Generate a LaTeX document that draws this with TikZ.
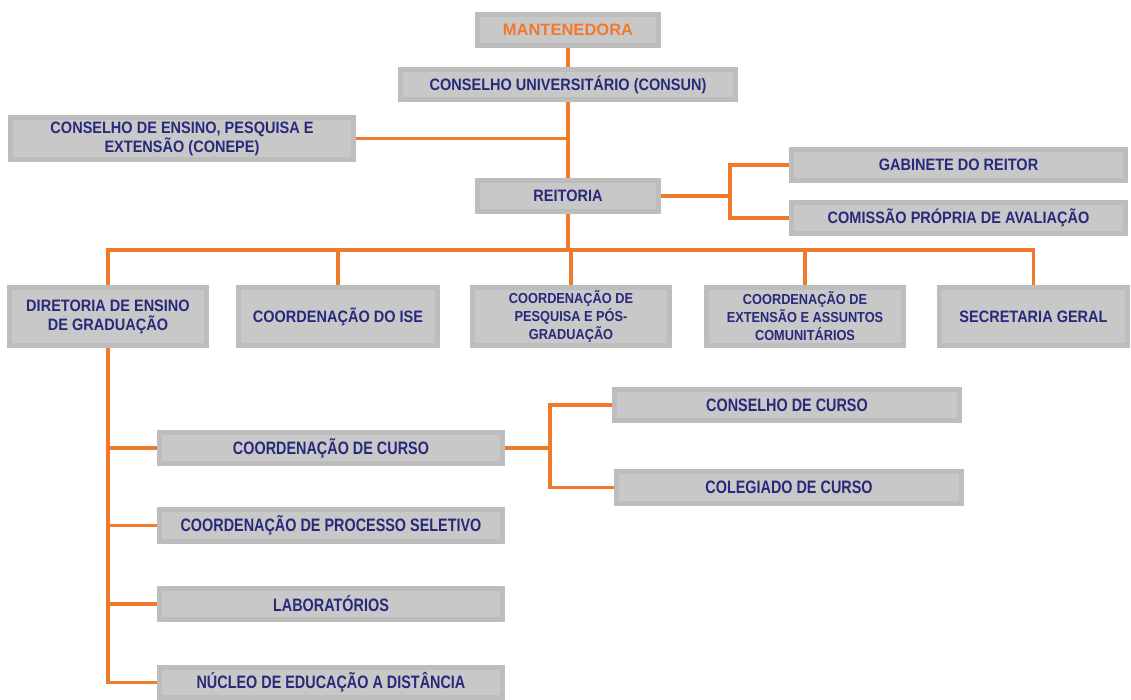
\documentclass[tikz,border=0pt]{standalone}
\usepackage{fontspec}
\setmainfont{Liberation Sans}[FakeStretch=0.88]
\newfontfamily\narrowf{Liberation Sans}[FakeStretch=0.8]
\newfontfamily\widef{Liberation Sans}
\definecolor{boxout}{HTML}{BDBDBD}
\definecolor{boxin}{HTML}{C8C8C8}
\definecolor{navy}{HTML}{29297C}
\definecolor{orgline}{HTML}{EF7A2B}
\tikzset{
  obox/.style={draw=boxout, fill=boxin, line width=5pt, inner sep=0pt,
    align=center, text=navy, font=\bfseries\fontsize{16.5}{19}\selectfont},
  smalltxt/.style={font=\bfseries\fontsize{14.5}{18}\selectfont},
  bigtxt/.style={font=\narrowf\bfseries\fontsize{18}{20}\selectfont},
  toptxt/.style={text=orgline, font=\widef\bfseries\fontsize{16.5}{19}\selectfont},
  link/.style={draw=orgline, line width=3.4pt}
}
% name, x1, y1, x2, y2, options, text
\newcommand\obx[7]{\node[obox,#6,
  minimum width={((#4)-(#2)-5)*1pt}, minimum height={((#5)-(#3)-5)*1pt}]
  (#1) at ({((#2)+(#4))/2},{((#3)+(#5))/2}) {#7};}
\begin{document}
\begin{tikzpicture}[x=1pt,y=-1pt]
\fill[white] (0,0) rectangle (1131,700);
\useasboundingbox (0,0) rectangle (1131,700);

% boxes
\obx{mant}{475}{12}{661}{48}{toptxt}{MANTENEDORA}
\obx{consun}{398}{67}{738}{102}{}{CONSELHO UNIVERSITÁRIO (CONSUN)}
\obx{conepe}{8}{115}{356}{162}{}{CONSELHO DE ENSINO, PESQUISA E\\EXTENSÃO (CONEPE)}
\obx{reit}{475}{178}{661}{214}{}{REITORIA}
\obx{gab}{789}{147}{1128}{183}{}{GABINETE DO REITOR}
\obx{com}{789}{200}{1128}{236}{}{COMISSÃO PRÓPRIA DE AVALIAÇÃO}

\obx{dir}{7}{285}{209}{348}{}{DIRETORIA DE ENSINO\\DE GRADUAÇÃO}
\obx{ise}{236}{285}{440}{348}{}{COORDENAÇÃO DO ISE}
\obx{pesq}{470}{285}{672}{348}{smalltxt}{COORDENAÇÃO DE\\PESQUISA E PÓS-\\GRADUAÇÃO}
\obx{ext}{704}{285}{906}{348}{smalltxt}{COORDENAÇÃO DE\\EXTENSÃO E ASSUNTOS\\COMUNITÁRIOS}
\obx{sec}{937}{285}{1130}{348}{}{SECRETARIA GERAL}

\obx{cc}{157}{430}{505}{466}{bigtxt}{COORDENAÇÃO DE CURSO}
\obx{ps}{157}{507}{505}{544}{bigtxt}{COORDENAÇÃO DE PROCESSO SELETIVO}
\obx{lab}{157}{586}{505}{622}{bigtxt}{LABORATÓRIOS}
\obx{nuc}{157}{665}{505}{700}{bigtxt}{NÚCLEO DE EDUCAÇÃO A DISTÂNCIA}
\obx{cons}{612}{387}{962}{423}{bigtxt}{CONSELHO DE CURSO}
\obx{coleg}{614}{469}{964}{506}{bigtxt}{COLEGIADO DE CURSO}

% connectors
\coordinate (rb) at (730,196);
\coordinate (bus) at (568,250);
\coordinate (cb) at (550,448);

\draw[link] (mant.south) -- (consun.north);
\draw[link] (consun.south) -- (reit.north);
\draw[link] (conepe.east) -- (conepe.east -| consun.south);
\draw[link] (reit.east) -- (rb);
\draw[link] (gab.west) -| (rb) |- (com.west);
\draw[link] (reit.south) -- (bus);
\draw[link] (dir.north) -- (dir.north |- bus) -- (sec.north |- bus) -- (sec.north);
\draw[link] (ise.north) -- (ise.north |- bus);
\draw[link] (pesq.north) -- (pesq.north |- bus);
\draw[link] (ext.north) -- (ext.north |- bus);
\draw[link] (dir.south) -- (dir.south |- nuc.west) -- (nuc.west);
\draw[link] (dir.south |- cc.west) -- (cc.west);
\draw[link] (dir.south |- ps.west) -- (ps.west);
\draw[link] (dir.south |- lab.west) -- (lab.west);
\draw[link] (cc.east) -- (cb);
\draw[link] (cons.west) -| (cb) |- (coleg.west);
\end{tikzpicture}
\end{document}
